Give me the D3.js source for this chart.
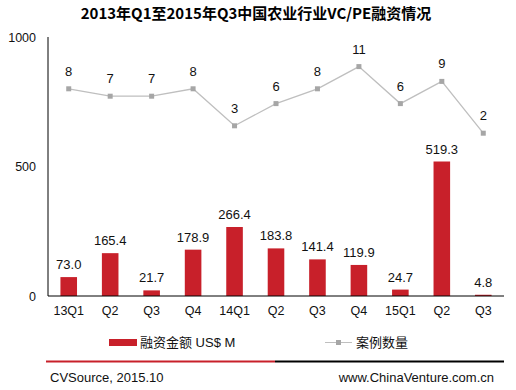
<!DOCTYPE html>
<html>
<head>
<meta charset="utf-8">
<script src="https://cdn.jsdelivr.net/npm/d3@7"></script>
<style>
  body { margin: 0; background: #fff; }
  svg { font-family: "Liberation Sans", Arial, "Noto Sans CJK SC", sans-serif; }
</style>
</head>
<body>
<svg width="516" height="390"></svg>
<script>
// datos
const categorias = ["13Q1", "Q2", "Q3", "Q4", "14Q1", "Q2", "Q3", "Q4", "15Q1", "Q2", "Q3"];
const montos = [73.0, 165.4, 21.7, 178.9, 266.4, 183.8, 141.4, 119.9, 24.7, 519.3, 4.8];
const casos = [8, 7, 7, 8, 3, 6, 8, 11, 6, 9, 2];
const yTicks = [0, 500, 1000];

const svg = d3.select("svg");
const izq = 48, der = 504, arriba = 37, abajo = 296;
const rojo = "#c8202a";
const fuente = "'Liberation Sans', Arial, 'Noto Sans CJK SC', sans-serif";

const x = d3.scaleBand()
    .domain(d3.range(categorias.length))
    .range([izq, der])
    .paddingInner(0.6)
    .paddingOuter(0.3);

const y = d3.scaleLinear().domain([0, 1000]).range([abajo, arriba]);
// eje secundario oculto para los casos
const y2 = d3.scaleLinear().domain([-20, 15]).range([abajo, arriba]);

// titulo
svg.append("text")
    .attr("x", 256).attr("y", 19)
    .attr("text-anchor", "middle")
    .attr("font-family", "'Noto Sans CJK SC', sans-serif")
    .attr("font-weight", "bold")
    .attr("font-size", 15)
    .text("2013年Q1至2015年Q3中国农业行业VC/PE融资情况");

// barras
svg.selectAll(".bar")
    .data(montos)
    .enter()
    .append("rect")
    .attr("class", "bar")
    .attr("x", (d, i) => x(i))
    .attr("y", d => y(d))
    .attr("width", x.bandwidth())
    .attr("height", d => abajo - y(d))
    .attr("fill", rojo);

svg.selectAll(".barLabel")
    .data(montos)
    .enter()
    .append("text")
    .attr("x", (d, i) => x(i) + x.bandwidth() / 2)
    .attr("y", d => y(d) - 8)
    .attr("text-anchor", "middle")
    .attr("font-size", 13)
    .attr("fill", "#111")
    .text(d => d.toFixed(1));

// linea de casos
const cx = i => x(i) + x.bandwidth() / 2;
const linea = d3.line()
    .x((d, i) => cx(i))
    .y(d => y2(d));

svg.append("path")
    .datum(casos)
    .attr("d", linea)
    .attr("fill", "none")
    .attr("stroke", "#bfbfbf")
    .attr("stroke-width", 1.3);

svg.selectAll(".punto")
    .data(casos)
    .enter()
    .append("rect")
    .attr("x", (d, i) => cx(i) - 2.5)
    .attr("y", d => y2(d) - 2.5)
    .attr("width", 5)
    .attr("height", 5)
    .attr("fill", "#a6a6a6");

svg.selectAll(".casoLabel")
    .data(casos)
    .enter()
    .append("text")
    .attr("x", (d, i) => cx(i))
    .attr("y", d => y2(d) - 13)
    .attr("text-anchor", "middle")
    .attr("font-size", 13)
    .attr("fill", "#111")
    .text(d => d);

// ejes
const yAxis = d3.axisLeft(y).tickValues(yTicks).tickFormat(d3.format("d")).tickSize(0).tickPadding(12);
svg.append("g")
    .attr("transform", `translate(${izq}, 0)`)
    .call(yAxis)
    .call(g => g.select(".domain").attr("stroke", "#000").attr("d", `M0,${arriba}V${abajo}`))
    .call(g => g.selectAll("text").attr("font-size", 12.5).attr("fill", "#111")
        .attr("font-family", fuente));

const xAxis = d3.axisBottom(x).tickFormat(i => categorias[i]).tickSize(0).tickPadding(10);
svg.append("g")
    .attr("transform", `translate(0, ${abajo})`)
    .call(xAxis)
    .call(g => g.select(".domain").attr("stroke", "#000").attr("d", `M${izq},0H${der}`))
    .call(g => g.selectAll("text").attr("font-size", 12.5).attr("fill", "#111")
        .attr("font-family", fuente));

// leyenda
svg.append("rect")
    .attr("x", 109).attr("y", 339)
    .attr("width", 28).attr("height", 7)
    .attr("fill", rojo);
svg.append("text")
    .attr("x", 140).attr("y", 347)
    .attr("font-size", 13).attr("fill", "#111")
    .text("融资金额 US$ M");

svg.append("line")
    .attr("x1", 325).attr("x2", 352)
    .attr("y1", 342.5).attr("y2", 342.5)
    .attr("stroke", "#bfbfbf");
svg.append("rect")
    .attr("x", 336).attr("y", 340)
    .attr("width", 5).attr("height", 5)
    .attr("fill", "#a6a6a6");
svg.append("text")
    .attr("x", 356).attr("y", 347)
    .attr("font-size", 13).attr("fill", "#111")
    .text("案例数量");

// pie
svg.append("line")
    .attr("x1", 46).attr("x2", 275)
    .attr("y1", 361.5).attr("y2", 361.5)
    .attr("stroke", rojo).attr("stroke-width", 2);
svg.append("line")
    .attr("x1", 275).attr("x2", 504)
    .attr("y1", 361.5).attr("y2", 361.5)
    .attr("stroke", "#000").attr("stroke-width", 2);

svg.append("text")
    .attr("x", 50).attr("y", 382)
    .attr("font-size", 13).attr("fill", "#111")
    .text("CVSource, 2015.10");
svg.append("text")
    .attr("x", 494).attr("y", 382)
    .attr("text-anchor", "end")
    .attr("font-size", 13).attr("fill", "#111")
    .text("www.ChinaVenture.com.cn");
</script>
</body>
</html>
